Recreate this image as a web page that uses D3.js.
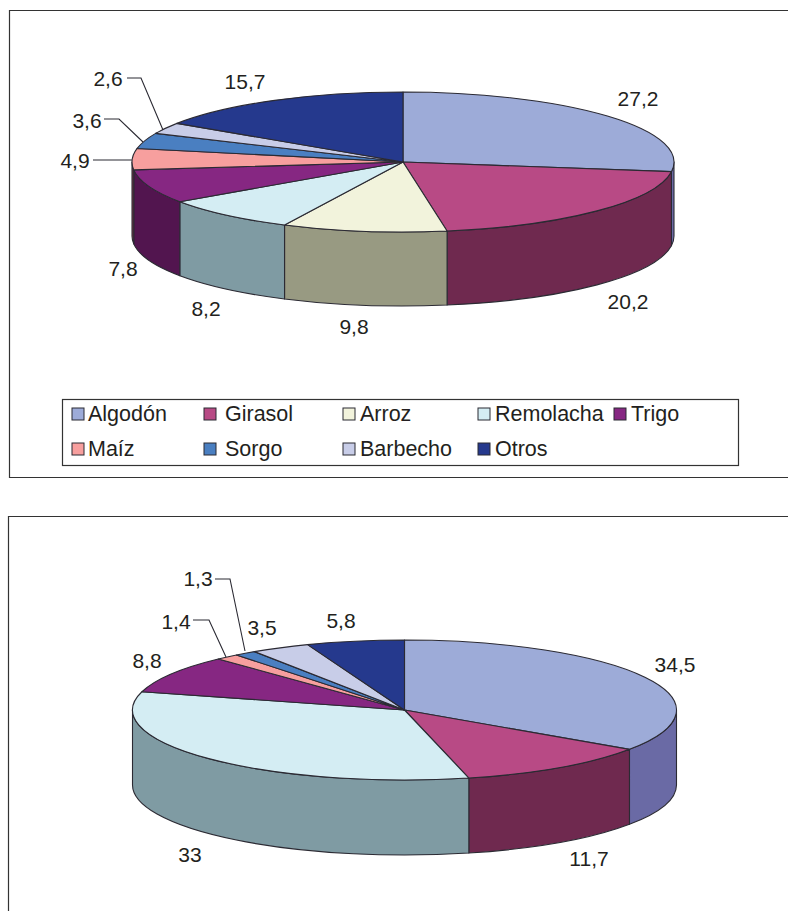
<!DOCTYPE html>
<html>
<head>
<meta charset="utf-8">
<script src="https://cdn.jsdelivr.net/npm/d3@7"></script>
<style>
  html, body { margin: 0; padding: 0; background: #fff; overflow: hidden; }
  text { font-family: "Liberation Sans", Arial, sans-serif; fill: #231f20; }
</style>
</head>
<body>
<div id="chart"></div>
<script>
// Data
const categories = ["Algodón", "Girasol", "Arroz", "Remolacha", "Trigo", "Maíz", "Sorgo", "Barbecho", "Otros"];
const valuesTop = [27.2, 20.2, 9.8, 8.2, 7.8, 4.9, 3.6, 2.6, 15.7];
const valuesBottom = [34.5, 11.7, 0, 33, 8.8, 1.4, 1.3, 3.5, 5.8];
const topColors = ["#9dabd8", "#b84a85", "#f2f3dc", "#d4edf3", "#862782", "#f79f9e", "#4a7fc1", "#c8cde8", "#25398d"];
const sideColors = ["#6a6aa5", "#6f294f", "#989a82", "#7f9ba3", "#52154f", "#7a3b4c", "#2f5a90", "#8d90ad", "#182a66"];

const width = 788;
const height = 911;
const lineColor = "#2b2a33";
const fmt = v => String(v).replace(".", ",");

const color = d3.scaleOrdinal().domain(categories).range(topColors);
const side = d3.scaleOrdinal().domain(categories).range(sideColors);
const pie = d3.pie().sort(null).value(d => d.value);

const svg = d3.select("#chart").append("svg")
    .attr("width", width)
    .attr("height", height);

// Frames
svg.append("path")
    .attr("d", "M800,10.5H9.5V477.5H800")
    .attr("fill", "none").attr("stroke", "#333").attr("stroke-width", 1.2);
svg.append("path")
    .attr("d", "M800,516.5H8.5V920")
    .attr("fill", "none").attr("stroke", "#333").attr("stroke-width", 1.2);

function drawPie(values, geo, labels) {
    const rows = categories.map((c, i) => ({ name: c, value: values[i] }));
    const arcs = pie(rows).filter(d => d.value > 0);

    // angle (clockwise from top) to a point on the ellipse
    const px = a => geo.cx + geo.rx * Math.sin(a);
    const py = a => geo.cy - geo.ry * Math.cos(a);
    const ell = (a, sweep) => `A${geo.rx},${geo.ry} 0 0 ${sweep} ${px(a)},${py(a)}`;

    const g = svg.append("g");

    // Walls: only the front half of the rim shows
    const front = arcs.filter(d => d.endAngle > Math.PI / 2 && d.startAngle < Math.PI * 1.5);
    g.selectAll(".wall").data(front).enter().append("path")
        .attr("class", "wall")
        .attr("fill", d => side(d.data.name))
        .attr("stroke", lineColor)
        .attr("stroke-width", 1.1)
        .attr("stroke-linejoin", "round")
        .attr("d", d => {
            const a0 = Math.max(d.startAngle, Math.PI / 2);
            const a1 = Math.min(d.endAngle, Math.PI * 1.5);
            return `M${px(a0)},${py(a0)}${ell(a1, 1)}v${geo.depth}`
                + `A${geo.rx},${geo.ry} 0 0 0 ${px(a0)},${py(a0) + geo.depth}Z`;
        });

    // Top face
    g.selectAll(".slice").data(arcs).enter().append("path")
        .attr("class", "slice")
        .attr("fill", d => color(d.data.name))
        .attr("stroke", lineColor)
        .attr("stroke-width", 1.1)
        .attr("stroke-linejoin", "round")
        .attr("d", d => {
            const large = d.endAngle - d.startAngle > Math.PI ? 1 : 0;
            return `M${geo.cx},${geo.cy}L${px(d.startAngle)},${py(d.startAngle)}`
                + `A${geo.rx},${geo.ry} 0 ${large} 1 ${px(d.endAngle)},${py(d.endAngle)}Z`;
        });

    // Value labels, placed by hand like the original
    svg.append("g").selectAll("text").data(labels).enter().append("text")
        .attr("x", d => d.x)
        .attr("y", d => d.y)
        .attr("text-anchor", "middle")
        .attr("dominant-baseline", "central")
        .attr("font-size", 21)
        .text(d => fmt(values[categories.indexOf(d.name)]));

    // Leader lines
    svg.append("g").selectAll("path").data(labels.filter(d => d.leader)).enter().append("path")
        .attr("d", d => d3.line()(d.leader))
        .attr("fill", "none")
        .attr("stroke", lineColor)
        .attr("stroke-width", 1.1);
}

drawPie(valuesTop, { cx: 403, cy: 162, rx: 271, ry: 70, depth: 74 }, [
    { name: "Algodón", x: 638, y: 98 },
    { name: "Girasol", x: 628, y: 301 },
    { name: "Arroz", x: 354, y: 326 },
    { name: "Remolacha", x: 206, y: 308 },
    { name: "Trigo", x: 123, y: 268 },
    { name: "Maíz", x: 75, y: 160, leader: [[93, 160], [132, 160]] },
    { name: "Sorgo", x: 87, y: 120, leader: [[104, 119], [119, 119], [143, 142]] },
    { name: "Barbecho", x: 108, y: 78, leader: [[127, 78], [141, 78], [163, 130]] },
    { name: "Otros", x: 245, y: 81 }
]);

drawPie(valuesBottom, { cx: 404.5, cy: 710, rx: 272, ry: 70, depth: 75 }, [
    { name: "Algodón", x: 675, y: 664 },
    { name: "Girasol", x: 589, y: 858 },
    { name: "Remolacha", x: 190, y: 854 },
    { name: "Trigo", x: 147, y: 660 },
    { name: "Maíz", x: 176, y: 621, leader: [[193, 620], [209, 620], [226, 657]] },
    { name: "Sorgo", x: 198, y: 578, leader: [[215, 579], [230, 579], [245, 651]] },
    { name: "Barbecho", x: 262, y: 627 },
    { name: "Otros", x: 341, y: 620 }
]);

// Legend
svg.append("rect")
    .attr("x", 62.5).attr("y", 399.5)
    .attr("width", 676).attr("height", 66)
    .attr("fill", "#fff").attr("stroke", "#333").attr("stroke-width", 1.2);

const legendX = [72, 204, 343, 478, 614];
const legendTextX = [88, 225, 360, 495, 631];
const legendY = [414, 449];

const items = svg.append("g").selectAll("g")
    .data(categories)
    .enter().append("g");

items.append("rect")
    .attr("x", (d, i) => legendX[i % 5])
    .attr("y", (d, i) => legendY[Math.floor(i / 5)] - 6)
    .attr("width", 12)
    .attr("height", 12)
    .attr("fill", d => color(d))
    .attr("stroke", lineColor);

items.append("text")
    .attr("x", (d, i) => legendTextX[i % 5])
    .attr("y", (d, i) => legendY[Math.floor(i / 5)])
    .attr("dominant-baseline", "central")
    .attr("font-size", 21.5)
    .text(d => d);
</script>
</body>
</html>
